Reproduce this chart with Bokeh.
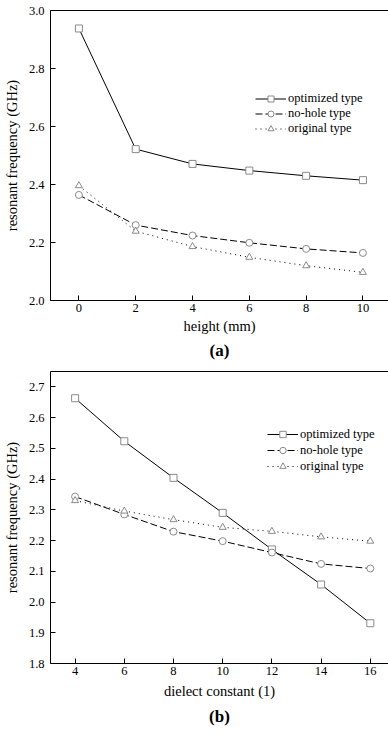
from bokeh.plotting import figure
from bokeh.layouts import column
from bokeh.models import Range1d, LinearAxis, FixedTicker, PrintfTickFormatter, Title, Legend
from bokeh.embed import file_html
from bokeh.resources import INLINE

# ---- data (a) ----
height_mm = [0, 2, 4, 6, 8, 10]
a_optimized = [2.938, 2.522, 2.471, 2.448, 2.430, 2.415]
a_nohole = [2.364, 2.260, 2.224, 2.199, 2.178, 2.164]
a_original = [2.396, 2.239, 2.186, 2.149, 2.120, 2.097]
a_xticks = [0, 2, 4, 6, 8, 10]
a_yticks = [2.0, 2.2, 2.4, 2.6, 2.8, 3.0]

# ---- data (b) ----
dielect = [4, 6, 8, 10, 12, 14, 16]
b_optimized = [2.663, 2.523, 2.404, 2.290, 2.171, 2.057, 1.931]
b_nohole = [2.343, 2.285, 2.229, 2.198, 2.161, 2.124, 2.109]
b_original = [2.330, 2.296, 2.268, 2.243, 2.230, 2.212, 2.198]
b_xticks = [4, 6, 8, 10, 12, 14, 16]
b_yticks = [1.8, 1.9, 2.0, 2.1, 2.2, 2.3, 2.4, 2.5, 2.6, 2.7]

series_names = ["optimized type", "no-hole type", "original type"]

FONT = "Liberation Serif"
GREY = "#8a8a8a"


def style_axis(ax, ticks, fmt):
    ax.ticker = FixedTicker(ticks=ticks)
    ax.formatter = PrintfTickFormatter(format=fmt)
    ax.major_tick_in = 5
    ax.major_tick_out = 0
    ax.minor_tick_line_color = None
    ax.axis_line_color = "black"
    ax.major_tick_line_color = "black"
    ax.major_label_text_font = FONT
    ax.major_label_text_font_size = "12.5px"
    ax.major_label_text_color = "black"
    ax.axis_label_text_font = FONT
    ax.axis_label_text_font_size = "14.5px"
    ax.axis_label_text_font_style = "normal"
    ax.axis_label_text_color = "black"


def make_fig(x, ys, xr, yr, xticks, yticks, xlabel, tag, h, top, bottom,
             leg_loc, leg_h, xlab_standoff, title_standoff):
    p = figure(width=388, height=h, x_range=Range1d(*xr), y_range=Range1d(*yr),
               output_backend="svg", toolbar_location=None,
               min_border_left=50, min_border_right=0, min_border_top=top,
               min_border_bottom=bottom)
    p.outline_line_color = None
    p.xgrid.grid_line_color = None
    p.ygrid.grid_line_color = None
    p.background_fill_color = "white"
    p.border_fill_color = "white"
    style_axis(p.xaxis[0], xticks, "%d")
    style_axis(p.yaxis[0], yticks, "%.1f")
    p.xaxis[0].axis_label = xlabel
    p.xaxis[0].major_label_standoff = 3
    p.xaxis[0].axis_label_standoff = xlab_standoff
    p.yaxis[0].axis_label = "resonant frequency (GHz)"
    p.yaxis[0].major_label_standoff = 6
    p.yaxis[0].axis_label_standoff = 6

    top_ax = LinearAxis(ticker=FixedTicker(ticks=[]), major_tick_line_color=None,
                        minor_tick_line_color=None, major_tick_out=0, major_tick_in=0,
                        minor_tick_out=0, major_label_standoff=0, axis_line_color="black")
    p.add_layout(top_ax, "above")

    dashes = ["solid", "7 3", "1 4"]
    markers = ["square", "circle", "triangle"]
    items = []
    for yv, d, m, name in zip(ys, dashes, markers, series_names):
        l = p.line(x, yv, line_color="black", line_width=1, line_dash=d)
        s = p.scatter(x, yv, marker=m, size=7, line_color=GREY, fill_color="white", line_width=1)
        items.append((name, [l, s]))
    leg = Legend(items=items, location=leg_loc, border_line_color=None,
                 background_fill_alpha=0, padding=0, margin=0, spacing=0,
                 glyph_width=31, glyph_height=leg_h, label_height=leg_h,
                 label_standoff=2, label_text_font=FONT, label_text_font_size="12.5px",
                 label_text_color="black")
    p.add_layout(leg, "center")
    p.add_layout(Title(text=tag, align="center", text_font=FONT, text_font_size="17px",
                       text_font_style="bold", text_color="black", standoff=title_standoff),
                 "below")
    return p


pa = make_fig(height_mm, [a_optimized, a_nohole, a_original], (-1, 10.9), (2.0, 3.0),
              a_xticks, a_yticks, "height (mm)", "(a)", 362, 10, 62,
              (205, 164), 15, 3, 4)
pb = make_fig(dielect, [b_optimized, b_nohole, b_original], (3, 16.74), (1.8, 2.75),
              b_xticks, b_yticks, "dielect constant (1)", "(b)", 371, 9, 70,
              (217, 189), 16, 5, 6)

layout = column(pa, pb, spacing=0)
open("out.html", "w").write(file_html(layout, INLINE))
